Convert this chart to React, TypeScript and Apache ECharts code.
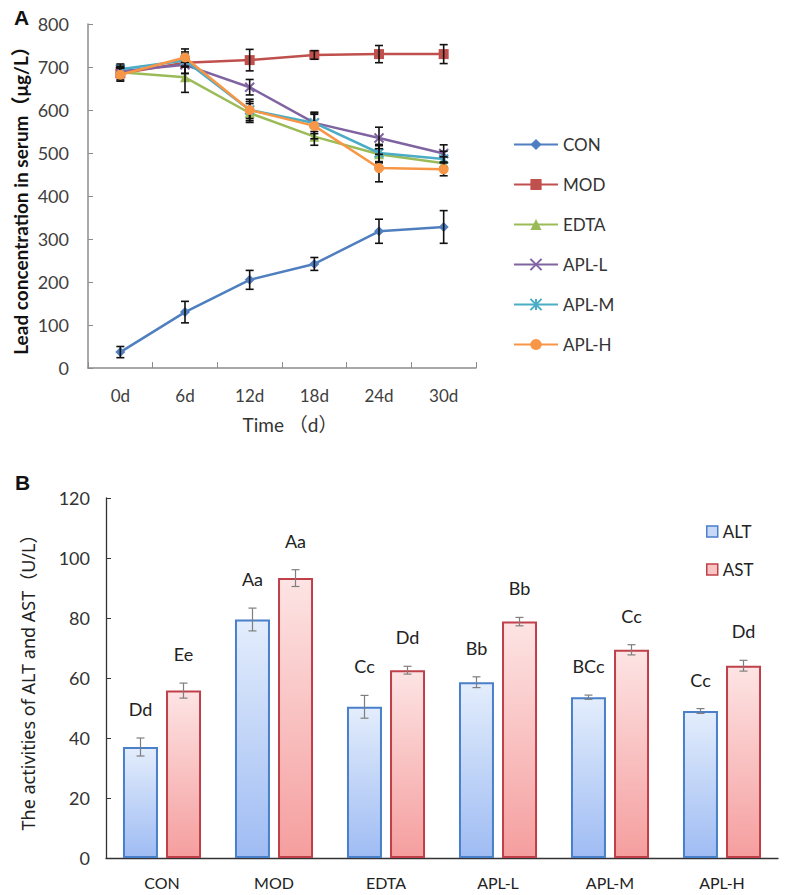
import React, { useEffect, useRef } from "react";
import * as echarts from "echarts";

// ---- Panel A data ----
const timeLabels = ["0d", "6d", "12d", "18d", "24d", "30d"];
const lineNames = ["CON", "MOD", "EDTA", "APL-L", "APL-M", "APL-H"];
const conVals = [37, 130, 205, 242, 318, 328];
const modVals = [685, 710, 716, 728, 730, 730];
const edtaVals = [688, 676, 593, 538, 497, 476];
const aplLVals = [690, 705, 653, 570, 535, 499];
const aplMVals = [695, 715, 600, 570, 500, 486];
const aplHVals = [682, 722, 600, 563, 465, 462];
const conErr = [13, 25, 22, 15, 28, 38];
const modErr = [15, 25, 25, 10, 20, 22];
const edtaErr = [10, 35, 22, 20, 20, 15];
const aplLErr = [12, 20, 18, 20, 25, 20];
const aplMErr = [12, 15, 20, 25, 20, 18];
const aplHErr = [15, 20, 25, 30, 32, 15];

// ---- Panel B data ----
const groups = ["CON", "MOD", "EDTA", "APL-L", "APL-M", "APL-H"];
const altVals = [37, 79.5, 50.4, 58.6, 53.6, 49];
const altErr = [3, 3.8, 3.8, 1.8, 0.7, 0.8];
const astVals = [55.8, 93.3, 62.6, 78.8, 69.4, 64.1];
const astErr = [2.5, 2.8, 1.3, 1.4, 1.7, 1.8];
const altLetters = ["Dd", "Aa", "Cc", "Bb", "BCc", "Cc"];
const astLetters = ["Ee", "Aa", "Dd", "Bb", "Cc", "Dd"];

const lineColors = ["#4f7fbf", "#c0504d", "#9bbb59", "#8064a2", "#4bacc6", "#f79646"];
const lineVals = [conVals, modVals, edtaVals, aplLVals, aplMVals, aplHVals];
const lineErrs = [conErr, modErr, edtaErr, aplLErr, aplMErr, aplHErr];
const symbols = [
  "diamond",
  "rect",
  "triangle",
  "path://M0,0L10,10M10,0L0,10",
  "path://M0,0L10,10M10,0L0,10M5,0L5,10",
  "circle",
];

export default function App() {
  const ref = useRef<HTMLDivElement>(null);
  useEffect(() => {
    document.body.style.margin = "0";
    const chart = echarts.init(ref.current!, null, { renderer: "svg" });

    const errSeriesA = lineVals.map((vals, si) => ({
      type: "custom",
      xAxisIndex: 0,
      yAxisIndex: 0,
      z: 10,
      silent: true,
      data: vals.map((v, i) => [i, v - lineErrs[si][i], v + lineErrs[si][i]]),
      encode: { x: 0, y: [1, 2] },
      renderItem: (params: any, api: any) => {
        const x = api.value(0);
        const p1 = api.coord([x, api.value(2)]);
        const p2 = api.coord([x, api.value(1)]);
        const w = 4;
        const st = { stroke: "#111", lineWidth: 1.6 };
        return {
          type: "group",
          children: [
            { type: "line", shape: { x1: p1[0], y1: p1[1], x2: p2[0], y2: p2[1] }, style: st },
            { type: "line", shape: { x1: p1[0] - w, y1: p1[1], x2: p1[0] + w, y2: p1[1] }, style: st },
            { type: "line", shape: { x1: p2[0] - w, y1: p2[1], x2: p2[0] + w, y2: p2[1] }, style: st },
          ],
        };
      },
    }));

    const lineSeries = lineVals.map((vals, si) => ({
      name: lineNames[si],
      type: "line",
      xAxisIndex: 0,
      yAxisIndex: 0,
      data: vals,
      symbol: symbols[si],
      symbolSize: si === 3 || si === 4 ? 9 : 10,
      lineStyle: { color: lineColors[si], width: 2.5 },
      itemStyle: {
        color: lineColors[si],
        borderColor: lineColors[si],
        borderWidth: si === 3 || si === 4 ? 2 : 0,
      },
      z: 5 + si,
    }));

    const makeBarErr = (vals: number[], errs: number[], letters: string[], sign: number) => ({
      type: "custom",
      xAxisIndex: 1,
      yAxisIndex: 1,
      z: 10,
      silent: true,
      data: vals.map((v, i) => [i, v - errs[i], v + errs[i]]),
      encode: { x: 0, y: [1, 2] },
      renderItem: (params: any, api: any) => {
        const idx = api.value(0);
        const off = (sign * (35 + 8)) / 2;
        const p1 = api.coord([idx, api.value(2)]);
        const p2 = api.coord([idx, api.value(1)]);
        const x = p1[0] + off;
        const w = 4;
        const st = { stroke: "#7f7f7f", lineWidth: 1.2 };
        return {
          type: "group",
          children: [
            { type: "line", shape: { x1: x, y1: p1[1], x2: x, y2: p2[1] }, style: st },
            { type: "line", shape: { x1: x - w, y1: p1[1], x2: x + w, y2: p1[1] }, style: st },
            { type: "line", shape: { x1: x - w, y1: p2[1], x2: x + w, y2: p2[1] }, style: st },
            {
              type: "text",
              x: x,
              y: p1[1] - 29,
              style: {
                text: letters[params.dataIndex],
                fill: "#222",
                font: "18px Lato, sans-serif",
                align: "center",
                verticalAlign: "middle",
              },
            },
          ],
        };
      },
    });

    const altGrad = new echarts.graphic.LinearGradient(0, 0, 0, 1, [
      { offset: 0, color: "#e3edfc" },
      { offset: 1, color: "#9fbcf3" },
    ]);
    const astGrad = new echarts.graphic.LinearGradient(0, 0, 0, 1, [
      { offset: 0, color: "#fde4e4" },
      { offset: 1, color: "#f59e9e" },
    ]);

    chart.setOption({
      animation: false,
      backgroundColor: "#fff",
      title: [
        { text: "A", left: 9, top: 2, textStyle: { fontFamily: "Liberation Sans, Arial", fontWeight: "bold", fontSize: 21, color: "#111" } },
        { text: "B", left: 10, top: 467, textStyle: { fontFamily: "Liberation Sans, Arial", fontWeight: "bold", fontSize: 21, color: "#111" } },
      ],
      legend: [
        {
          data: lineNames,
          orient: "vertical",
          left: 508,
          top: 131,
          itemWidth: 44,
          itemHeight: 14,
          itemGap: 23,
          textStyle: { fontFamily: "Lato, sans-serif", fontSize: 17, color: "#333" },
        },
        {
          data: [
            { name: "ALT", itemStyle: { color: "#c7d9f7", borderColor: "#4a7fc9", borderWidth: 1.5 } },
            { name: "AST", itemStyle: { color: "#f9c4c4", borderColor: "#c0404a", borderWidth: 1.5 } },
          ],
          orient: "vertical",
          left: 701,
          top: 518,
          icon: "rect",
          itemWidth: 11,
          itemHeight: 11,
          itemGap: 21,
          textStyle: { fontFamily: "Lato, sans-serif", fontSize: 17, color: "#222" },
        },
      ],
      grid: [
        { left: 88, top: 24, width: 388, height: 344 },
        { left: 106, top: 498, width: 672, height: 360 },
      ],
      xAxis: [
        {
          type: "category",
          gridIndex: 0,
          data: timeLabels,
          name: "Time （d）",
          nameLocation: "middle",
          nameGap: 47,
          nameTextStyle: {
            fontFamily: "Lato, 'Noto Sans CJK SC', sans-serif",
            fontSize: 19,
            color: "#333",
            padding: [0, 0, 0, 16],
          },
          axisLine: { lineStyle: { color: "#8c8c8c", width: 1.5 } },
          axisTick: { show: true, inside: true, length: 6, lineStyle: { color: "#8c8c8c" } },
          axisLabel: { fontFamily: "Lato, sans-serif", fontSize: 17, color: "#404040", margin: 19 },
        },
        {
          type: "category",
          gridIndex: 1,
          data: groups,
          axisLine: { lineStyle: { color: "#333", width: 1.3 } },
          axisTick: { show: false },
          axisLabel: { fontFamily: "Lato, sans-serif", fontSize: 16, color: "#222", margin: 16 },
        },
      ],
      yAxis: [
        {
          type: "value",
          gridIndex: 0,
          min: 0,
          max: 800,
          interval: 100,
          name: "Lead concentration in serum（μg/L）",
          nameLocation: "middle",
          nameGap: 58,
          nameTextStyle: { fontFamily: "Lato, 'Noto Sans CJK SC', sans-serif", fontSize: 19, fontWeight: "bold", color: "#111" },
          axisLine: { show: true, lineStyle: { color: "#8c8c8c", width: 1.5 } },
          axisTick: { show: true, inside: true, length: 5, lineStyle: { color: "#8c8c8c" } },
          splitLine: { show: false },
          axisLabel: { fontFamily: "Lato, sans-serif", fontSize: 18, color: "#404040", margin: 19 },
        },
        {
          type: "value",
          gridIndex: 1,
          min: 0,
          max: 120,
          interval: 20,
          name: "The activities of ALT and AST（U/L）",
          nameLocation: "middle",
          nameGap: 69,
          nameTextStyle: { fontFamily: "'Noto Sans', 'Noto Sans CJK SC', sans-serif", fontSize: 18, color: "#222" },
          axisLine: { show: true, lineStyle: { color: "#333", width: 1.3 } },
          axisTick: { show: true, inside: true, length: 5, lineStyle: { color: "#333" } },
          splitLine: { show: false },
          axisLabel: { fontFamily: "Lato, sans-serif", fontSize: 18, color: "#333", margin: 16 },
        },
      ],
      series: [
        ...lineSeries,
        ...errSeriesA,
        {
          name: "ALT",
          type: "bar",
          xAxisIndex: 1,
          yAxisIndex: 1,
          data: altVals,
          barWidth: 35,
          barGap: "23%",
          itemStyle: { color: altGrad, borderColor: "#4a7fc9", borderWidth: 2 },
        },
        {
          name: "AST",
          type: "bar",
          xAxisIndex: 1,
          yAxisIndex: 1,
          data: astVals,
          barWidth: 35,
          barGap: "23%",
          itemStyle: { color: astGrad, borderColor: "#c0404a", borderWidth: 2 },
        },
        makeBarErr(altVals, altErr, altLetters, -1),
        makeBarErr(astVals, astErr, astLetters, 1),
      ],
    });
    return () => chart.dispose();
  }, []);
  return <div ref={ref} style={{ width: 787, height: 895 }} />;
}
